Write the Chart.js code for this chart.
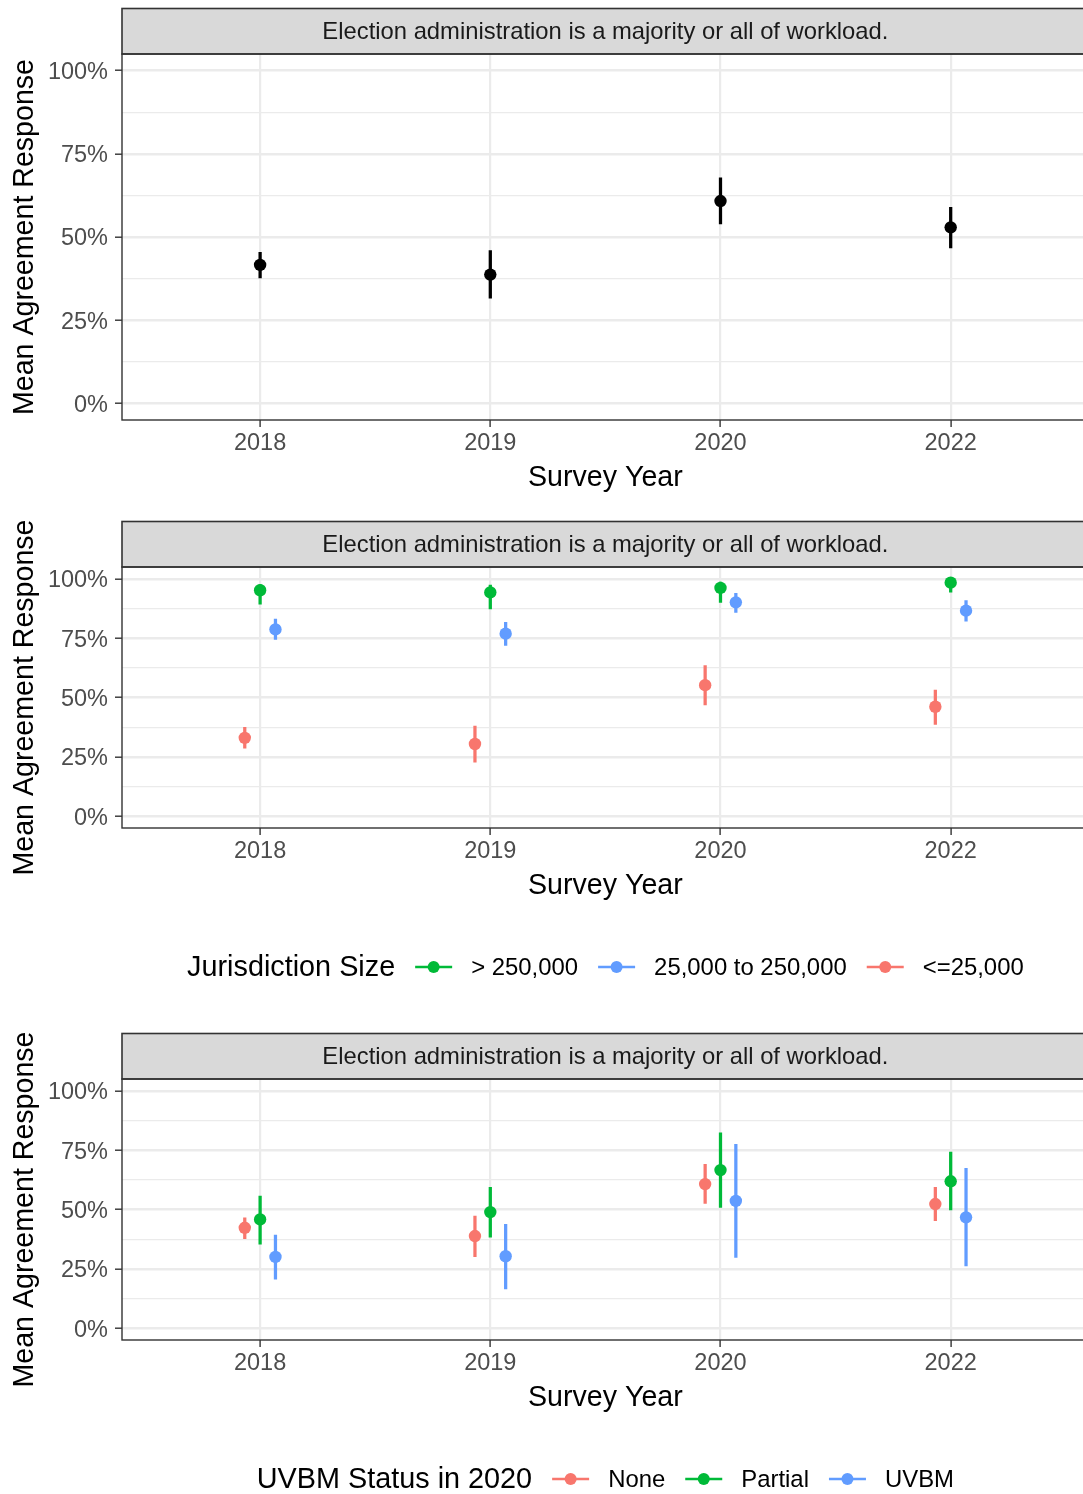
<!DOCTYPE html>
<html>
<head>
<meta charset="utf-8">
<script src="https://cdn.jsdelivr.net/npm/chart.js@4.4.1/dist/chart.umd.min.js"></script>
<style>
  html, body { margin: 0; padding: 0; background: #fff; overflow: hidden; width: 1083px; height: 1494px; }
  canvas { position: absolute; left: 0; }
</style>
</head>
<body>
<canvas id="overall" width="1095" height="500" style="top:0px"></canvas>
<canvas id="bySize" width="1095" height="512" style="top:500px"></canvas>
<canvas id="byUvbm" width="1095" height="482" style="top:1012px"></canvas>
<script>
const years = ['2018', '2019', '2020', '2022']
const yTicks = [0, 25, 50, 75, 100]
const stripText = 'Election administration is a majority or all of workload.'

// all respondents
const allMean = [41.6, 38.7, 60.8, 52.9]
const allLow = [37.7, 31.6, 53.9, 46.7]
const allHigh = [45.4, 45.9, 67.8, 58.9]

// by jurisdiction size
const sizeTitle = 'Jurisdiction Size'
const sizeLabels = ['> 250,000', '25,000 to 250,000', '<=25,000']
const largeMean = [95.2, 94.3, 96.2, 98.4]
const largeLow = [89.3, 87.3, 90.1, 94.4]
const largeHigh = [97.6, 97.4, 98.6, 99.6]
const midMean = [78.7, 76.9, 90.1, 86.6]
const midLow = [74.5, 72.0, 85.9, 82.2]
const midHigh = [83.1, 81.7, 93.9, 90.8]
const smallMean = [33.0, 30.4, 55.2, 46.1]
const smallLow = [28.6, 22.7, 46.9, 38.7]
const smallHigh = [37.4, 38.0, 63.5, 53.1]

// by UVBM status in 2020
const uvbmTitle = 'UVBM Status in 2020'
const uvbmLabels = ['None', 'Partial', 'UVBM']
const noneMean = [42.3, 38.8, 60.7, 52.3]
const noneLow = [37.7, 30.1, 52.6, 45.3]
const noneHigh = [46.5, 47.2, 69.0, 59.3]
const partialMean = [45.8, 48.9, 66.6, 61.9]
const partialLow = [35.4, 38.3, 50.9, 49.8]
const partialHigh = [55.7, 59.3, 82.3, 74.2]
const fullMean = [30.0, 30.3, 53.6, 46.7]
const fullLow = [20.6, 16.5, 29.8, 26.2]
const fullHigh = [39.2, 43.7, 77.5, 67.3]

const RED = '#F8766D', GREEN = '#00BA38', BLUE = '#619CFF'
const DODGE = 0.2 / 3
const FONT = '"Liberation Sans", Arial, Helvetica, sans-serif'

Chart.defaults.font.family = FONT
Chart.defaults.animation = false

function pointSet(mean, color, shift) {
  return {
    type: 'scatter',
    data: mean.map((v, i) => ({x: i + shift, y: v})),
    pointBackgroundColor: color,
    pointBorderWidth: 0,
    pointRadius: 6.2,
    order: 0
  }
}

function rangeSet(low, high, color, shift) {
  return {
    type: 'bar',
    data: low.map((v, i) => ({x: i + shift, y: [v, high[i]]})),
    backgroundColor: color,
    borderWidth: 0,
    barThickness: 2.6,
    grouped: false,
    order: 1
  }
}

function series(mean, low, high, color, shift) {
  return [rangeSet(low, high, color, shift), pointSet(mean, color, shift)]
}

const isMajor = v => yTicks.includes(v)

function makeScales() {
  return {
    x: {
      type: 'linear', min: -0.6, max: 3.6, offset: false, bounds: 'data',
      afterBuildTicks: s => { s.ticks = years.map((_, i) => ({value: i})) },
      afterFit: s => { s.height = 75 },
      ticks: {
        callback: v => years[v] ?? '',
        color: '#4D4D4D', font: {size: 23.5}, padding: 2.5,
        maxRotation: 0, autoSkip: false
      },
      grid: {
        color: '#EBEBEB', lineWidth: 2.2, offset: false,
        drawTicks: true, tickLength: 7, tickColor: '#333333', tickWidth: 1.4
      },
      border: {display: false},
      title: {
        display: true, text: 'Survey Year', color: '#000000',
        font: {size: 28.6}, padding: {top: 0, bottom: 0}
      }
    },
    y: {
      type: 'linear', min: -5, max: 105, bounds: 'data',
      afterBuildTicks: s => {
        const vals = []
        yTicks.forEach((v, i) => {
          vals.push(v)
          if (i < yTicks.length - 1) vals.push((v + yTicks[i + 1]) / 2)
        })
        s.ticks = vals.map(v => ({value: v}))
      },
      afterFit: s => { s.width = 122 },
      ticks: {
        callback: v => isMajor(v) ? v + '%' : '',
        color: '#4D4D4D', font: {size: 23.5}, padding: 7, labelOffset: 2,
        autoSkip: false
      },
      grid: {
        color: '#EBEBEB',
        lineWidth: c => (c.tick && isMajor(c.tick.value)) ? 2.4 : 1.3,
        drawTicks: true, tickLength: 7, tickWidth: 1.4,
        tickColor: c => (c.tick && isMajor(c.tick.value)) ? '#333333' : 'rgba(0,0,0,0)'
      },
      border: {display: false},
      title: {
        display: true, text: 'Mean Agreement Response', color: '#000000',
        font: {size: 28.6}, padding: {top: 8, bottom: 0}
      }
    }
  }
}

// grey facet strip above the panel and the dark panel border
const facetFrame = {
  id: 'facetFrame',
  afterDraw(chart) {
    const {ctx, chartArea: a} = chart
    const h = 45.5
    ctx.save()
    ctx.fillStyle = '#D9D9D9'
    ctx.fillRect(a.left, a.top - h, a.right - a.left, h)
    ctx.strokeStyle = '#333333'
    ctx.lineWidth = 1.6
    ctx.strokeRect(a.left, a.top - h, a.right - a.left, h)
    ctx.lineWidth = 1.4
    ctx.strokeRect(a.left, a.top, a.right - a.left, a.bottom - a.top)
    ctx.fillStyle = '#1A1A1A'
    ctx.font = '23.8px ' + FONT
    ctx.textAlign = 'center'
    ctx.textBaseline = 'middle'
    ctx.fillText(stripText, (a.left + a.right) / 2, a.top - h / 2 + 1.5)
    ctx.restore()
  }
}

// horizontal key below the x axis title
function keyLegend(title, labels, colors) {
  return {
    id: 'keyLegend',
    afterDraw(chart) {
      const {ctx, chartArea: a} = chart
      const cy = a.bottom + 139
      const titleFont = '28.8px ' + FONT
      const labelFont = '23.9px ' + FONT
      ctx.save()
      ctx.font = titleFont
      const titleW = ctx.measureText(title).width
      ctx.font = labelFont
      const widths = labels.map(l => ctx.measureText(l).width)
      const glyph = 37, gapIn = 19, gapOut = 20
      let total = titleW
      widths.forEach(w => { total += gapOut + glyph + gapIn + w })
      let x = (a.left + a.right) / 2 - total / 2
      ctx.textBaseline = 'middle'
      ctx.textAlign = 'left'
      ctx.fillStyle = '#000000'
      ctx.font = titleFont
      ctx.fillText(title, x, cy + 1.5)
      x += titleW
      ctx.font = labelFont
      labels.forEach((l, i) => {
        x += gapOut
        ctx.strokeStyle = colors[i]
        ctx.lineWidth = 2.6
        ctx.beginPath()
        ctx.moveTo(x, cy)
        ctx.lineTo(x + glyph, cy)
        ctx.stroke()
        ctx.fillStyle = colors[i]
        ctx.beginPath()
        ctx.arc(x + glyph / 2, cy, 6, 0, Math.PI * 2)
        ctx.fill()
        x += glyph + gapIn
        ctx.fillStyle = '#000000'
        ctx.fillText(l, x, cy + 1.5)
        x += widths[i]
      })
      ctx.restore()
    }
  }
}

function makeChart(id, datasets, padding, extraPlugins) {
  return new Chart(document.getElementById(id), {
    type: 'scatter',
    data: {datasets: datasets},
    options: {
      responsive: false,
      animation: false,
      layout: {padding: padding},
      scales: makeScales(),
      plugins: {legend: {display: false}, tooltip: {enabled: false}}
    },
    plugins: [facetFrame].concat(extraPlugins)
  })
}

makeChart('overall',
  series(allMean, allLow, allHigh, '#000000', 0),
  {top: 54, right: 2, bottom: 5, left: 0}, [])

makeChart('bySize',
  [].concat(
    series(smallMean, smallLow, smallHigh, RED, -DODGE),
    series(largeMean, largeLow, largeHigh, GREEN, 0),
    series(midMean, midLow, midHigh, BLUE, DODGE)
  ),
  {top: 67, right: 2, bottom: 109, left: 0},
  [keyLegend(sizeTitle, sizeLabels, [GREEN, BLUE, RED])])

makeChart('byUvbm',
  [].concat(
    series(noneMean, noneLow, noneHigh, RED, -DODGE),
    series(partialMean, partialLow, partialHigh, GREEN, 0),
    series(fullMean, fullLow, fullHigh, BLUE, DODGE)
  ),
  {top: 67, right: 2, bottom: 79, left: 0},
  [keyLegend(uvbmTitle, uvbmLabels, [RED, GREEN, BLUE])])
</script>
</body>
</html>
